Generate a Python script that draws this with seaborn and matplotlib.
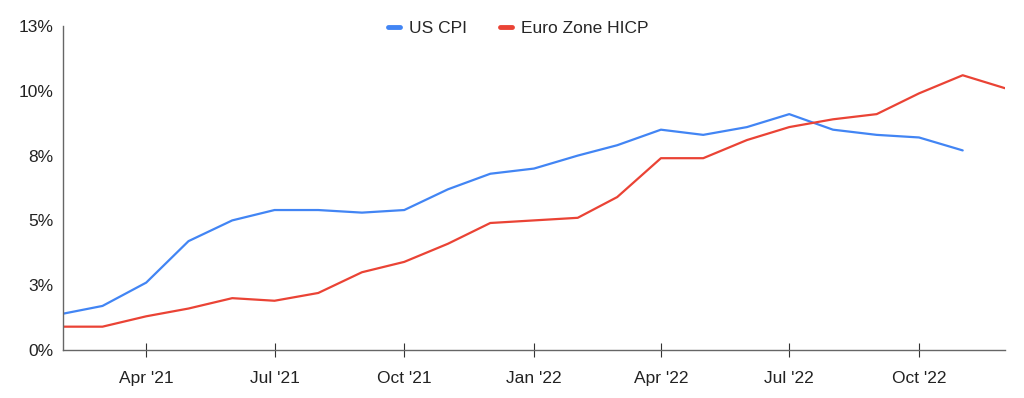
import pandas as pd
import matplotlib
matplotlib.use("Agg")
import matplotlib.pyplot as plt
import matplotlib.dates as mdates
import seaborn as sns

# monthly readings, Feb 2021 - Dec 2022
months = pd.date_range("2021-02-01", "2022-12-01", freq="MS")
us_cpi = [1.4, 1.7, 2.6, 4.2, 5.0, 5.4, 5.4, 5.3, 5.4, 6.2, 6.8, 7.0,
          7.5, 7.9, 8.5, 8.3, 8.6, 9.1, 8.5, 8.3, 8.2, 7.7, None]
euro_hicp = [0.9, 0.9, 1.3, 1.6, 2.0, 1.9, 2.2, 3.0, 3.4, 4.1, 4.9, 5.0,
             5.1, 5.9, 7.4, 7.4, 8.1, 8.6, 8.9, 9.1, 9.9, 10.6, 10.1]
y_ticks = [0, 2.5, 5, 7.5, 10, 12.5]
y_labels = ["0%", "3%", "5%", "8%", "10%", "13%"]

df = pd.DataFrame({"date": months, "US CPI": us_cpi, "Euro Zone HICP": euro_hicp})
long = df.melt(id_vars="date", var_name="series", value_name="rate").dropna()

sns.set_style("white")
plt.rcParams["font.family"] = ["Liberation Sans", "DejaVu Sans"]

fig = plt.figure(figsize=(10.24, 3.98), dpi=100)
ax = fig.add_axes([63 / 1024, 48 / 398, 942 / 1024, 324 / 398])

sns.lineplot(data=long, x="date", y="rate", hue="series",
             palette={"US CPI": "#4285F4", "Euro Zone HICP": "#EA4335"},
             linewidth=1.6, ax=ax)

ax.set_xlim(months[0], months[-1])
ax.set_ylim(0, 12.5)
ax.set_yticks(y_ticks)
ax.set_yticklabels(y_labels)
ax.xaxis.set_major_locator(mdates.MonthLocator(bymonth=[1, 4, 7, 10]))
ax.xaxis.set_major_formatter(mdates.DateFormatter("%b '%y"))
ax.set_xlabel("")
ax.set_ylabel("")

for s in ["top", "right"]:
    ax.spines[s].set_visible(False)
for s in ["left", "bottom"]:
    ax.spines[s].set_color("#666666")
    ax.spines[s].set_linewidth(1)
ax.tick_params(axis="x", bottom=True, direction="inout", length=10, width=0.8,
               color="#333333", labelsize=12.5, pad=10, labelcolor="#222222")
ax.tick_params(axis="y", left=False, length=0, labelsize=12.5, pad=7,
               labelcolor="#222222")

leg = ax.legend(loc="upper center", bbox_to_anchor=(0.483, 1.065), ncol=2,
                frameon=False, fontsize=12.5, handlelength=0.7,
                columnspacing=1.9, handletextpad=0.5)
for line in leg.get_lines():
    line.set_linewidth(3.5)

fig.savefig("out.png", dpi=100)
